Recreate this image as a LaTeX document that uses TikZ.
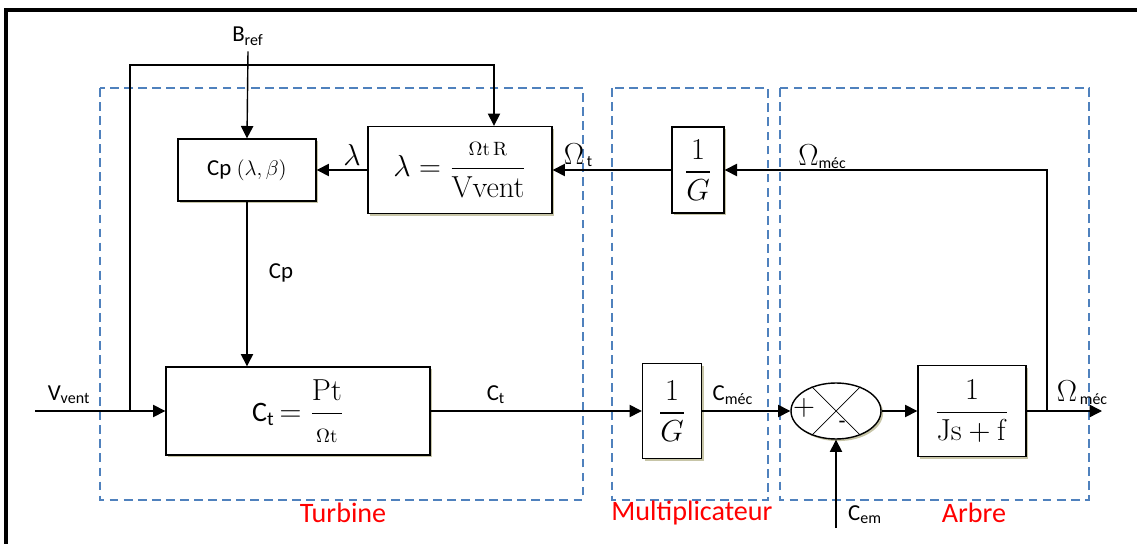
\documentclass[tikz,border=0pt]{standalone}
\usepackage{amsmath,amssymb}
\usepackage[no-math]{fontspec}
\setmainfont{Carlito}
\usepackage{tikz}
\usetikzlibrary{arrows.meta,shapes.geometric,shadows}
\definecolor{zoneblue}{RGB}{79,129,189}
\tikzset{
  block/.style={draw,thick,fill=white,inner sep=0pt,
    drop shadow={shadow xshift=1.2pt,shadow yshift=-1.2pt,fill=olive!45!gray,opacity=0.5}},
  bigmath/.style={font=\fontsize{16}{18}\selectfont},
  sumnode/.style={draw,thick,ellipse,fill=white,inner sep=0pt,minimum width=1.8cm,minimum height=1.12cm,
    drop shadow={shadow xshift=1.2pt,shadow yshift=-1.2pt,fill=olive!45!gray,opacity=0.5}},
  zone/.style={draw=zoneblue,line width=0.6pt,dash pattern=on 5pt off 3pt},
  zonelabel/.style={text=red,font=\fontsize{16}{18}\selectfont},
  sig/.style={thick,-{Triangle[width=7pt,length=7pt]}}
}
\begin{document}
\begin{tikzpicture}[x=0.02cm,y=-0.02cm,every node/.append style={font=\fontsize{13}{15}\selectfont}]
  \useasboundingbox (0,0) rectangle (1137,544);
  \draw[line width=1.8pt] (6,544) |- (1137,10);
  \draw[zone] (100,88) rectangle (583,500);
  \draw[zone] (612,88) rectangle (768,500);
  \draw[zone] (780,88) rectangle (1089,500);
  \node[zonelabel] (turb) at (343,513) {Turbine};
  \node[zonelabel] (mult) at (692,513) {Multiplicateur};
  \node[zonelabel] (arbre) at (974,513) {Arbre};

  \node[block,minimum width=2.76cm,minimum height=1.24cm] (cp) at (247,170) {Cp $(\lambda,\beta)$};
  \node[block,bigmath,minimum width=3.68cm,minimum height=1.74cm] (lam) at (460,170)
    {$\lambda=\dfrac{\scriptstyle\Omega\mathrm{t}\,\mathrm{R}}{\mathrm{Vvent}}$};
  \node[block,bigmath,minimum width=1.04cm,minimum height=1.72cm] (g1) at (698,170) {$\dfrac{1}{G}$};
  \node[block,bigmath,minimum width=5.28cm,minimum height=1.76cm] (ct) at (298,411)
    {C\textsubscript{t}$\,=\dfrac{\mathrm{Pt}}{\scriptstyle\Omega\mathrm{t}}$};
  \node[block,bigmath,minimum width=1.18cm,minimum height=1.9cm] (g2) at (672,411) {$\dfrac{1}{G}$};
  \node[sumnode] (sum) at (836,411) {};
  \node[block,bigmath,minimum width=2.16cm,minimum height=1.82cm] (js) at (972,411) {$\dfrac{1}{\mathrm{Js+f}}$};
  \draw (sum.135) -- (sum.-45) (sum.45) -- (sum.-135);
  \node[bigmath] (plus) at (804,408) {$+$};
  \node (minus) at (842,425) {-};

  \node (bref) at (248,36) {B\textsubscript{ref}};
  \node (vvent) at (69,395) {V\textsubscript{vent}};
  \node (cplab) at (281,273) {Cp};
  \node (ctlab) at (496,395) {C\textsubscript{t}};
  \node (cmeclab) at (733,395) {C\textsubscript{méc}};
  \node (cemlab) at (865,515) {C\textsubscript{em}};
  \node[bigmath] (lamlab) at (352,155) {$\lambda$};
  \node (omtlab) at (578,155) {{\fontsize{16}{18}\selectfont$\Omega$}\raisebox{-0.2ex}{\small\,t}};
  \node (ommlab) at (822,157) {{\fontsize{16}{18}\selectfont$\Omega$}\raisebox{-0.3ex}{\small méc}};
  \node (omolab) at (1082,393) {{\fontsize{16}{18}\selectfont$\Omega$}\raisebox{-0.3ex}{\small\,méc}};

  \coordinate (vin) at (35,411);
  \coordinate (jv) at (130,411);
  \coordinate (fb) at (494,65);
  \coordinate (jo) at (1047,411);
  \coordinate (out) at (1102,411);
  \coordinate (cem) at (836,528);

  \draw[sig] (bref.south) -- (cp.north);
  \draw[sig] (vin) -- (ct.west);
  \draw[sig] (jv) |- (fb) -- (fb |- lam.north);
  \draw[sig] (lam.west) -- (cp.east);
  \draw[sig] (g1.west) -- (lam.east);
  \draw[sig] (jo) |- (g1.east);
  \draw[sig] (cp.south) -- (cp.south |- ct.north);
  \draw[sig] (ct.east) -- (g2.west);
  \draw[sig] (g2.east) -- (sum.west);
  \draw[sig] (sum.east) -- (js.west);
  \draw[sig] (js.east) -- (out);
  \draw[sig] (cem) -- (sum.south);
\end{tikzpicture}
\end{document}
